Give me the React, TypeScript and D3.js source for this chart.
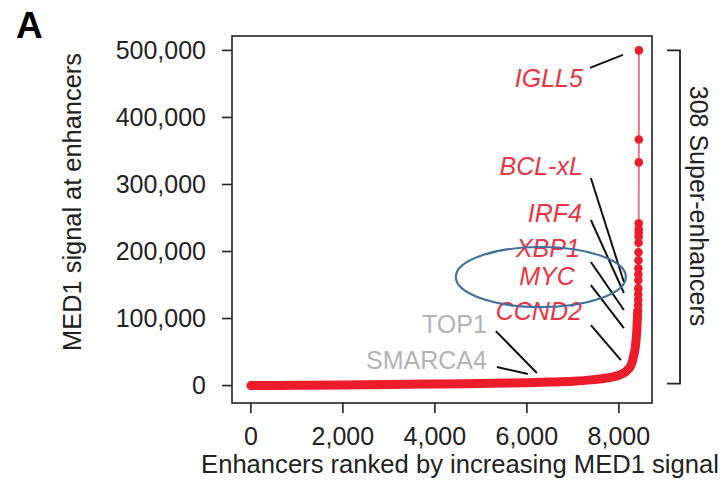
import React from "react";
import * as d3 from "d3";

// ---- data ----
const xTicks = [0, 2000, 4000, 6000, 8000];
const yTicks = [0, 100000, 200000, 300000, 400000, 500000];

// dense, lower part of the ranked curve (rank, MED1 signal)
const curveRanks = [0, 1000, 2000, 3000, 4000, 5000, 6000, 6500, 7000, 7400, 7700, 7900, 8000, 8100, 8200, 8260, 8300, 8340, 8370, 8390, 8402, 8410];
const curveSignals = [0, 500, 1000, 1600, 2300, 3100, 4200, 5200, 6500, 8500, 11000, 13500, 15500, 18500, 24000, 30000, 38000, 50000, 65000, 82000, 100000, 112000];

// top of the tail where single enhancers are visible as dots
const tailRanks = [8419, 8420, 8421, 8422, 8423, 8424, 8425, 8426, 8427, 8428, 8429, 8430, 8431, 8432, 8433, 8434, 8435];
const tailSignals = [120000, 128000, 136000, 145000, 157000, 166000, 175000, 187000, 199000, 213000, 222000, 228000, 233000, 242000, 333000, 367000, 500000];

// gene annotations: label anchor (rank, signal) and pointer line (rank, signal) -> (rank, signal)
const geneNames = ["IGLL5", "BCL-xL", "IRF4", "XBP1", "MYC", "CCND2", "TOP1", "SMARCA4"];
const geneIsSuper = [true, true, true, true, true, true, false, false];
const geneLabelRank = [7217, 7217, 7196, 7152, 7043, 7196, 5130, 5130];
const geneLabelSignal = [445500, 314200, 244000, 191800, 150000, 97800, 78400, 24600];
const lineFromRank = [7370, 7391, 7391, 7391, 7391, 7391, 5326, 5348];
const lineFromSignal = [473900, 309700, 247000, 184300, 150000, 90300, 81300, 27600];
const lineToRank = [8087, 8109, 8109, 8109, 8109, 8043, 6217, 6022];
const lineToSignal = [493300, 154500, 138100, 112700, 85800, 38100, 18700, 17200];

// highlight ellipse around MYC (center rank/signal and radii)
const ellipseCenter = [6304, 161900];
const ellipseRadius = [1848, 44800];

const superCount = 308;

// ---- chart ----
const W = 722;
const H = 481;
const FONT = "'Liberation Sans', Arial, Helvetica, sans-serif";

export default function App() {
  const x = d3.scaleLinear().domain([-410, 8720]).range([232, 652]);
  const y = d3.scaleLinear().domain([-26000, 521500]).range([403, 36]);

  const curvePts: [number, number][] = curveRanks.map((r, i) => [r, curveSignals[i]]);
  const tailPts: [number, number][] = tailRanks.map((r, i) => [r, tailSignals[i]]);

  const thick = d3
    .line<[number, number]>()
    .x((d) => x(d[0]))
    .y((d) => y(d[1]))
    .curve(d3.curveMonotoneX);
  const thin = d3
    .line<[number, number]>()
    .x((d) => x(d[0]))
    .y((d) => y(d[1]));

  const red = "#ec1c2a";
  const labelRed = "#ee3342";
  const grey = "#b3b3b3";
  const ink = "#222";

  const [left, right] = x.range();
  const [bottom, top] = y.range();

  const bx = 680;

  return (
    <svg
      width={W}
      height={H}
      style={{ position: "fixed", left: 0, top: 0, background: "#fff" }}
      fontFamily={FONT}
    >
      <rect x={0} y={0} width={W} height={H} fill="#fff" />
      {/* panel letter */}
      <text x={16} y={38} fontSize={37} fontWeight="bold" fill="#000">A</text>

      {/* thin connecting line of the tail */}
      <path d={thin([curvePts[curvePts.length - 1], ...tailPts]) || ""} fill="none" stroke="#f2737d" strokeWidth={2} />
      {/* dense part of the curve, overlapping points */}
      <path d={thick(curvePts) || ""} fill="none" stroke={red} strokeWidth={9} strokeLinecap="round" strokeLinejoin="round" />
      {tailPts.map((d, i) => (
        <circle key={i} cx={x(d[0])} cy={y(d[1])} r={4.3} fill={red} />
      ))}

      {/* annotation lines */}
      {geneNames.map((g, i) => (
        <line
          key={"l" + g}
          x1={x(lineFromRank[i])}
          y1={y(lineFromSignal[i])}
          x2={x(lineToRank[i])}
          y2={y(lineToSignal[i])}
          stroke="#111"
          strokeWidth={2}
        />
      ))}
      {geneNames.map((g, i) => (
        <text
          key={"t" + g}
          x={x(geneLabelRank[i])}
          y={y(geneLabelSignal[i])}
          textAnchor="end"
          fontSize={25}
          fontStyle={geneIsSuper[i] ? "italic" : "normal"}
          fill={geneIsSuper[i] ? labelRed : grey}
        >
          {g}
        </text>
      ))}

      {/* highlight ellipse */}
      <ellipse
        cx={x(ellipseCenter[0])}
        cy={y(ellipseCenter[1])}
        rx={x(ellipseCenter[0] + ellipseRadius[0]) - x(ellipseCenter[0])}
        ry={y(ellipseCenter[1] - ellipseRadius[1]) - y(ellipseCenter[1])}
        fill="none"
        stroke="#41719c"
        strokeWidth={2.2}
      />

      {/* box */}
      <rect x={left} y={top} width={right - left} height={bottom - top} fill="none" stroke={ink} strokeWidth={1.6} />

      {/* y axis */}
      {yTicks.map((t) => (
        <g key={"y" + t}>
          <line x1={left - 10} x2={left} y1={y(t)} y2={y(t)} stroke={ink} strokeWidth={1.6} />
          <text x={left - 26} y={y(t)} dy="0.35em" textAnchor="end" fontSize={25} fill={ink}>
            {d3.format(",")(t)}
          </text>
        </g>
      ))}
      {/* x axis */}
      {xTicks.map((t) => (
        <g key={"x" + t}>
          <line x1={x(t)} x2={x(t)} y1={bottom} y2={bottom + 10} stroke={ink} strokeWidth={1.6} />
          <text x={x(t)} y={445} textAnchor="middle" fontSize={25} fill={ink}>
            {d3.format(",")(t)}
          </text>
        </g>
      ))}

      <text x={460} y={473} textAnchor="middle" fontSize={25.6} fill={ink}>
        Enhancers ranked by increasing MED1 signal
      </text>
      <text transform={`translate(81, ${(y(0) + y(500000)) / 2 - 16}) rotate(-90)`} textAnchor="middle" fontSize={25.4} fill={ink}>
        MED1 signal at enhancers
      </text>

      {/* super-enhancer bracket */}
      <path
        d={`M${bx - 13},${y(500000)} H${bx} V${y(0) - 2} H${bx - 13}`}
        fill="none"
        stroke={ink}
        strokeWidth={1.8}
      />
      <text transform={`translate(690, ${(y(0) + y(500000)) / 2 - 12}) rotate(90)`} textAnchor="middle" fontSize={25} fill={ink}>
        {superCount} Super-enhancers
      </text>
    </svg>
  );
}
